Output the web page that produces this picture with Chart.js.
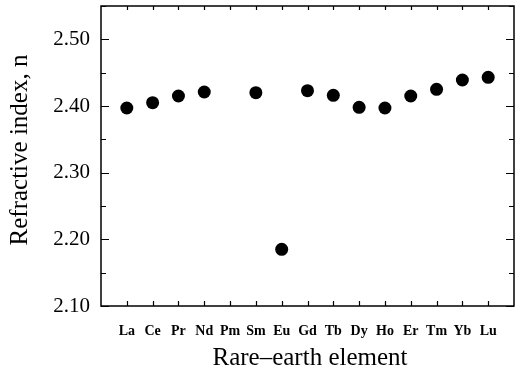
<!DOCTYPE html>
<html>
<head>
<meta charset="utf-8">
<script src="https://cdn.jsdelivr.net/npm/chart.js@4.4.1/dist/chart.umd.min.js"></script>
<style>
  html, body { margin: 0; padding: 0; background: #fff; }
  #wrap { width: 515px; height: 374px; }
</style>
</head>
<body>
<div id="wrap"><canvas id="chart"></canvas></div>
<script>
// rare-earth elements, in order along the x axis
const elements = ['La', 'Ce', 'Pr', 'Nd', 'Pm', 'Sm', 'Eu', 'Gd', 'Tb', 'Dy', 'Ho', 'Er', 'Tm', 'Yb', 'Lu'];
// refractive index (no point for Pm)
const refIndex = [2.397, 2.405, 2.415, 2.421, null, 2.420, 2.185, 2.423, 2.416, 2.398, 2.397, 2.415, 2.425, 2.439, 2.443];
const yTickLabels = ['2.10', '2.20', '2.30', '2.40', '2.50'];

const points = elements.map((el, i) => ({ x: i + 1, y: refIndex[i] })).filter(p => p.y !== null);

const serif = '"Liberation Serif", "DejaVu Serif", serif';

// axes box, inward ticks and axis titles
const frame = {
    id: 'frame',
    afterDraw(chart) {
        const { ctx, chartArea: a, scales: { x, y } } = chart;
        ctx.save();
        ctx.strokeStyle = '#000';
        ctx.lineWidth = 1.5;
        ctx.strokeRect(a.left, a.top, a.right - a.left, a.bottom - a.top);

        ctx.lineWidth = 1.2;
        ctx.beginPath();
        for (let v = 2.10; v <= 2.551; v += 0.05) {
            const py = Math.round(y.getPixelForValue(v)) + 0.5;
            const major = Math.round(v * 100) % 10 === 0;
            const len = major ? 8 : 5;
            ctx.moveTo(a.left, py); ctx.lineTo(a.left + len, py);
            ctx.moveTo(a.right, py); ctx.lineTo(a.right - len, py);
        }
        elements.forEach((el, i) => {
            const px = Math.round(x.getPixelForValue(i + 1)) + 0.5;
            ctx.moveTo(px, a.bottom); ctx.lineTo(px, a.bottom - 5);
            ctx.moveTo(px, a.top); ctx.lineTo(px, a.top + 4);
        });
        ctx.stroke();

        ctx.fillStyle = '#000';
        ctx.font = '25px ' + serif;
        ctx.textAlign = 'center';
        ctx.textBaseline = 'middle';
        ctx.fillText('Rare\u2013earth element', 310, 358);

        ctx.translate(20, 150);
        ctx.rotate(-Math.PI / 2);
        ctx.fillText('Refractive index, n', 0, 0);
        ctx.restore();
    }
};

new Chart(document.getElementById('chart'), {
    type: 'scatter',
    data: {
        datasets: [{
            data: points,
            backgroundColor: '#000',
            borderWidth: 0,
            pointRadius: 6.5,
            pointHoverRadius: 6.5
        }]
    },
    options: {
        responsive: true,
        maintainAspectRatio: false,
        animation: false,
        layout: { autoPadding: false, padding: { top: 6, right: 1, left: 0, bottom: 0 } },
        plugins: { legend: { display: false }, tooltip: { enabled: false } },
        scales: {
            x: {
                type: 'linear',
                min: 0,
                max: 16,
                afterBuildTicks: scale => {
                    scale.ticks = elements.map((el, i) => ({ value: i + 1 }));
                },
                afterFit: scale => {
                    scale.height = 68;
                    scale.paddingLeft = 0;
                    scale.paddingRight = 0;
                },
                grid: { display: false },
                border: { display: false },
                ticks: {
                    autoSkip: false,
                    maxRotation: 0,
                    padding: 9,
                    color: '#000',
                    font: { family: serif, size: 14, weight: 'bold' },
                    callback: v => elements[v - 1] || ''
                }
            },
            y: {
                type: 'linear',
                min: 2.10,
                max: 2.55,
                afterBuildTicks: scale => {
                    scale.ticks = yTickLabels.map(t => ({ value: parseFloat(t) }));
                },
                afterFit: scale => {
                    scale.width = 101;
                    scale.paddingTop = 0;
                    scale.paddingBottom = 0;
                },
                grid: { display: false },
                border: { display: false },
                ticks: {
                    padding: 3,
                    color: '#000',
                    font: { family: serif, size: 21 },
                    callback: v => v.toFixed(2)
                }
            }
        }
    },
    plugins: [frame]
});
</script>
</body>
</html>
